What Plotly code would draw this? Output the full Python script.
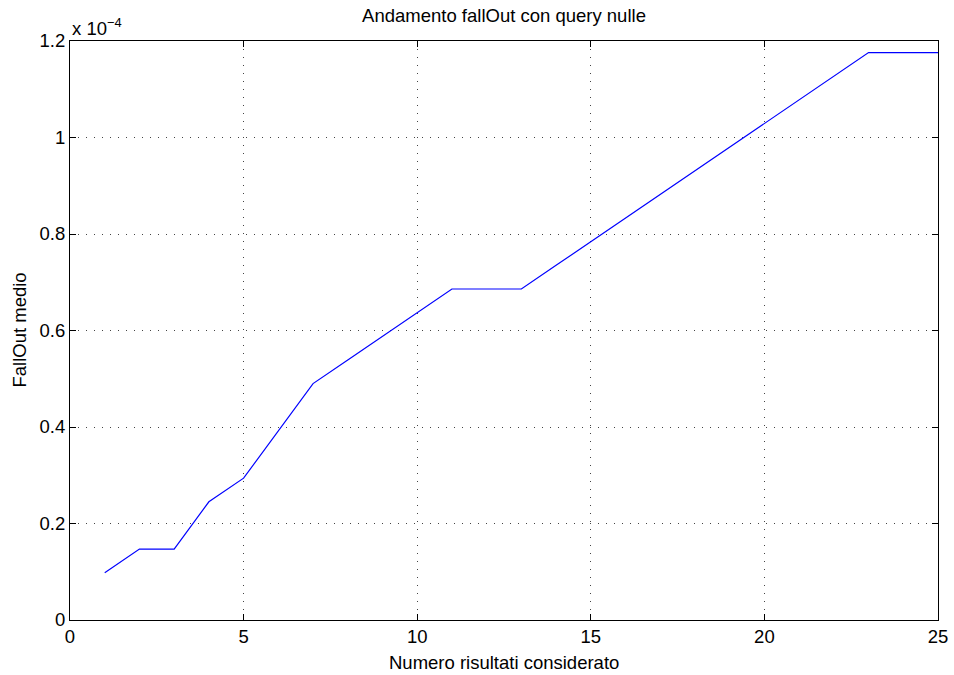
import plotly.graph_objects as go

# Numero risultati considerati (1..25) e fallOut medio (in unità di 1e-4)
n_risultati = list(range(1, 26))
fallout_medio = [0.098, 0.147, 0.147, 0.245, 0.294, 0.392, 0.490, 0.539, 0.588, 0.637,
                 0.686, 0.686, 0.686, 0.735, 0.784, 0.833, 0.882, 0.931, 0.980, 1.029,
                 1.078, 1.127, 1.176, 1.176, 1.176]

x_ticks = [0, 5, 10, 15, 20, 25]
y_ticks = [0, 0.2, 0.4, 0.6, 0.8, 1.0, 1.2]
y_tick_text = ["0", "0.2", "0.4", "0.6", "0.8", "1", "1.2"]

FONT = "Liberation Sans, Arial, Helvetica, sans-serif"
FS = 18.5
W, H = 954, 675
ML, MR, MT, MB = 70, 16, 41, 55

fig = go.Figure()
fig.add_trace(go.Scatter(
    x=n_risultati, y=fallout_medio, mode="lines",
    line=dict(color="#0000ff", width=1.2),
    hoverinfo="x+y", showlegend=False,
))

axis_common = dict(
    showline=True, linecolor="black", linewidth=1, mirror="ticks",
    ticks="inside", ticklen=6, tickcolor="black", tickwidth=1,
    showgrid=True, gridcolor="#444444", gridwidth=1, griddash="1px,7px",
    zeroline=False, automargin=False,
    tickfont=dict(family=FONT, size=FS, color="black"),
)

fig.update_xaxes(range=[0, 25], tickvals=x_ticks, **axis_common)
fig.update_yaxes(range=[0, 1.2], tickvals=y_ticks, ticktext=y_tick_text, **axis_common)

label_font = dict(family=FONT, size=FS, color="black")

# axis titles
fig.add_annotation(
    text="Numero risultati considerato", xref="paper", yref="paper",
    x=0.5, y=0, xanchor="center", yanchor="middle", yshift=-42,
    showarrow=False, font=label_font,
)
fig.add_annotation(
    text="FallOut medio", xref="paper", yref="paper",
    x=0, y=0.5, xanchor="center", yanchor="middle", xshift=-(ML - 19),
    textangle=-90, showarrow=False, font=label_font,
)

# exponent of the y axis
fig.add_annotation(
    text="x 10<sup>\u22124</sup>", xref="paper", yref="paper",
    x=0, y=1, xanchor="left", yanchor="bottom", yshift=0, showarrow=False,
    font=label_font,
)

fig.update_layout(
    width=W, height=H,
    margin=dict(l=ML, r=MR, t=MT, b=MB),
    paper_bgcolor="white", plot_bgcolor="white",
    title=dict(text="Andamento fallOut con query nulle", x=0.5, xref="paper",
               y=1 - 16 / H, yanchor="middle", font=label_font),
)

fig.write_html("out.html")
